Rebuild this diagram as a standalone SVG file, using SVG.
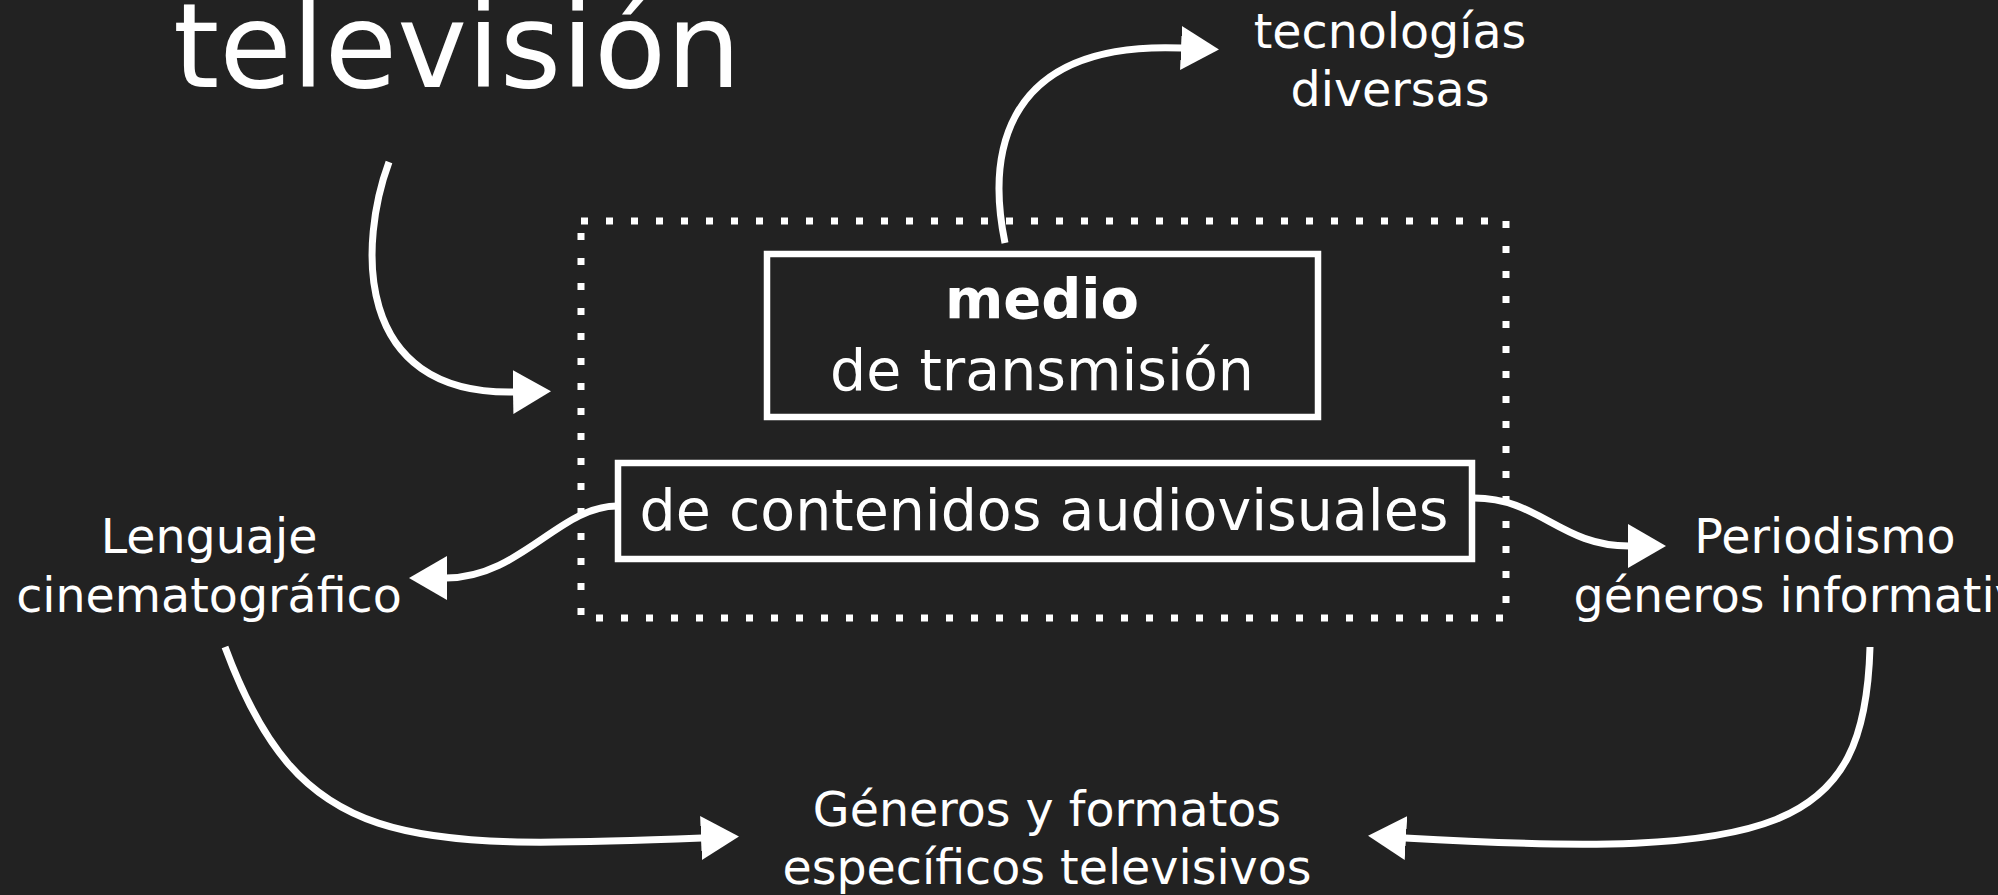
<svg xmlns="http://www.w3.org/2000/svg" width="1998" height="895" viewBox="0 0 1998 895">
<defs>
<style>
.t{font-family:"DejaVu Sans","Liberation Sans",sans-serif;fill:#fff;text-anchor:middle}
.b{font-weight:bold}
.box{fill:none;stroke:#fff;stroke-width:6.5}
.con{fill:none;stroke:#fff;stroke-width:7}
</style>
<marker id="ah" markerUnits="userSpaceOnUse" viewBox="0 0 38 44" refX="1" refY="22" markerWidth="38" markerHeight="44" orient="auto">
<path d="M0,0 L38,22 L0,44 z" fill="#fff"/>
</marker>
</defs>
<rect width="1998" height="895" fill="#222"/>
<g id="group-frame">
<rect x="581" y="221" width="925" height="397" fill="none" stroke="#fff" stroke-width="7" stroke-dasharray="7 18"/>
</g>
<g id="node-television">
<text class="t" x="457" y="87" font-size="118">televisión</text>
</g>
<g id="node-medio">
<rect class="box" x="767" y="254" width="551" height="163"/>
<text class="t b" x="1042" y="318" font-size="56">medio</text>
<text class="t" x="1042" y="390" font-size="57">de transmisión</text>
</g>
<g id="node-contenidos">
<rect class="box" x="618" y="463" width="854" height="96"/>
<text class="t" x="1044" y="530" font-size="57">de contenidos audiovisuales</text>
</g>
<g id="node-tecnologias">
<text class="t" x="1390" y="48" font-size="47.5">tecnologías</text>
<text class="t" x="1390" y="106" font-size="47.5">diversas</text>
</g>
<g id="node-lenguaje">
<text class="t" x="209" y="553" font-size="47.5">Lenguaje</text>
<text class="t" x="209" y="612" font-size="47.5">cinematográfico</text>
</g>
<g id="node-periodismo">
<text class="t" x="1825" y="553" font-size="47.5">Periodismo</text>
<text class="t" x="1825" y="612" font-size="47.5">géneros informativos</text>
</g>
<g id="node-generos">
<text class="t" x="1047" y="826" font-size="47.5">Géneros y formatos</text>
<text class="t" x="1047" y="884" font-size="47.5">específicos televisivos</text>
</g>
<g id="connectors">
<path class="con" d="M389,162 C360,240 350,395 514,392" marker-end="url(#ah)"/>
<path class="con" d="M1005,243 C990,170 990,40 1182,48" marker-end="url(#ah)"/>
<path class="con" d="M617,506 C560,506 520,578 446,578" marker-end="url(#ah)"/>
<path class="con" d="M1474,498 C1540,498 1560,546 1629,546" marker-end="url(#ah)"/>
<path class="con" d="M225,647 C300,850 400,850 702,838" marker-end="url(#ah)"/>
<path class="con" d="M1870,647 C1865,830 1780,860 1405,838" marker-end="url(#ah)"/>
</g>
</svg>
